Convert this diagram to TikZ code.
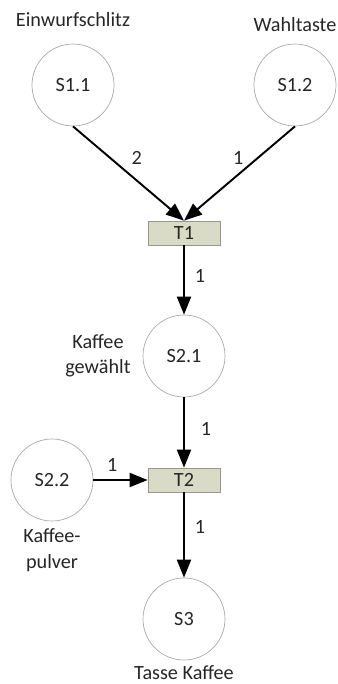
\documentclass[tikz,border=0pt]{standalone}
\usepackage{fontspec}
\setmainfont{Carlito}
\usetikzlibrary{positioning,arrows.meta}
\definecolor{tfill}{RGB}{217,219,198}
\definecolor{tdraw}{RGB}{150,152,138}
\definecolor{pdraw}{RGB}{170,170,170}

\begin{document}
\begin{tikzpicture}[on grid, font=\fontsize{11.5}{14.5}\selectfont, text=black!85,
  place/.style = {draw=pdraw, circle, minimum size=1.64cm, inner sep=0pt},
  trans/.style = {draw=tdraw, fill=tfill, minimum width=1.44cm, minimum height=0.48cm, inner sep=0pt},
  txt/.style = {align=center, inner sep=0pt},
  arc/.style = {line width=1.1pt, -{Triangle[length=3.6mm,width=2.8mm]}},
  w/.style = {inner sep=0pt}]
\useasboundingbox (0,0) rectangle (6.76,-13.68);
\node[trans] (t1) at (3.68,-4.66) {T1};
\node[place] (s11) [above left=2.96cm and 2.22cm of t1] {S1.1};
\node[place] (s12) [above right=2.96cm and 2.22cm of t1] {S1.2};
\node[place] (s21) [below=2.46cm of t1] {S2.1};
\node[trans] (t2) [below=2.48cm of s21] {T2};
\node[place] (s22) [left=2.64cm of t2] {S2.2};
\node[place] (s3) [below=2.78cm of t2] {S3};
\node[txt] (n11) [above=1.30cm of s11] {Einwurfschlitz};
\node[txt] (n12) [above=1.20cm of s12] {Wahltaste};
\node[txt] (n21) [left=1.72cm of s21] {Kaffee\\gewählt};
\node[txt] (n22) [below=1.40cm of s22] {Kaffee-\\pulver};
\node[txt] (n3) [below=1.08cm of s3] {Tasse Kaffee};
\draw[arc] (s11.south) -- node[w, pos=0.34, right=0.4cm, anchor=west] {2} (t1.north);
\draw[arc] (s12.south) -- node[w, pos=0.34, left=0.26cm, anchor=east] {1} (t1.north);
\draw[arc] (t1) -- node[w, pos=0.44, right=0.2cm, anchor=west] {1} (s21);
\draw[arc] (s21) -- node[w, pos=0.45, right=0.32cm, anchor=west] {1} (t2);
\draw[arc] (s22) -- node[w, pos=0.35, above=0.16cm, anchor=south] {1} (t2);
\draw[arc] (t2) -- node[w, pos=0.41, right=0.2cm, anchor=west] {1} (s3);
\end{tikzpicture}
\end{document}
